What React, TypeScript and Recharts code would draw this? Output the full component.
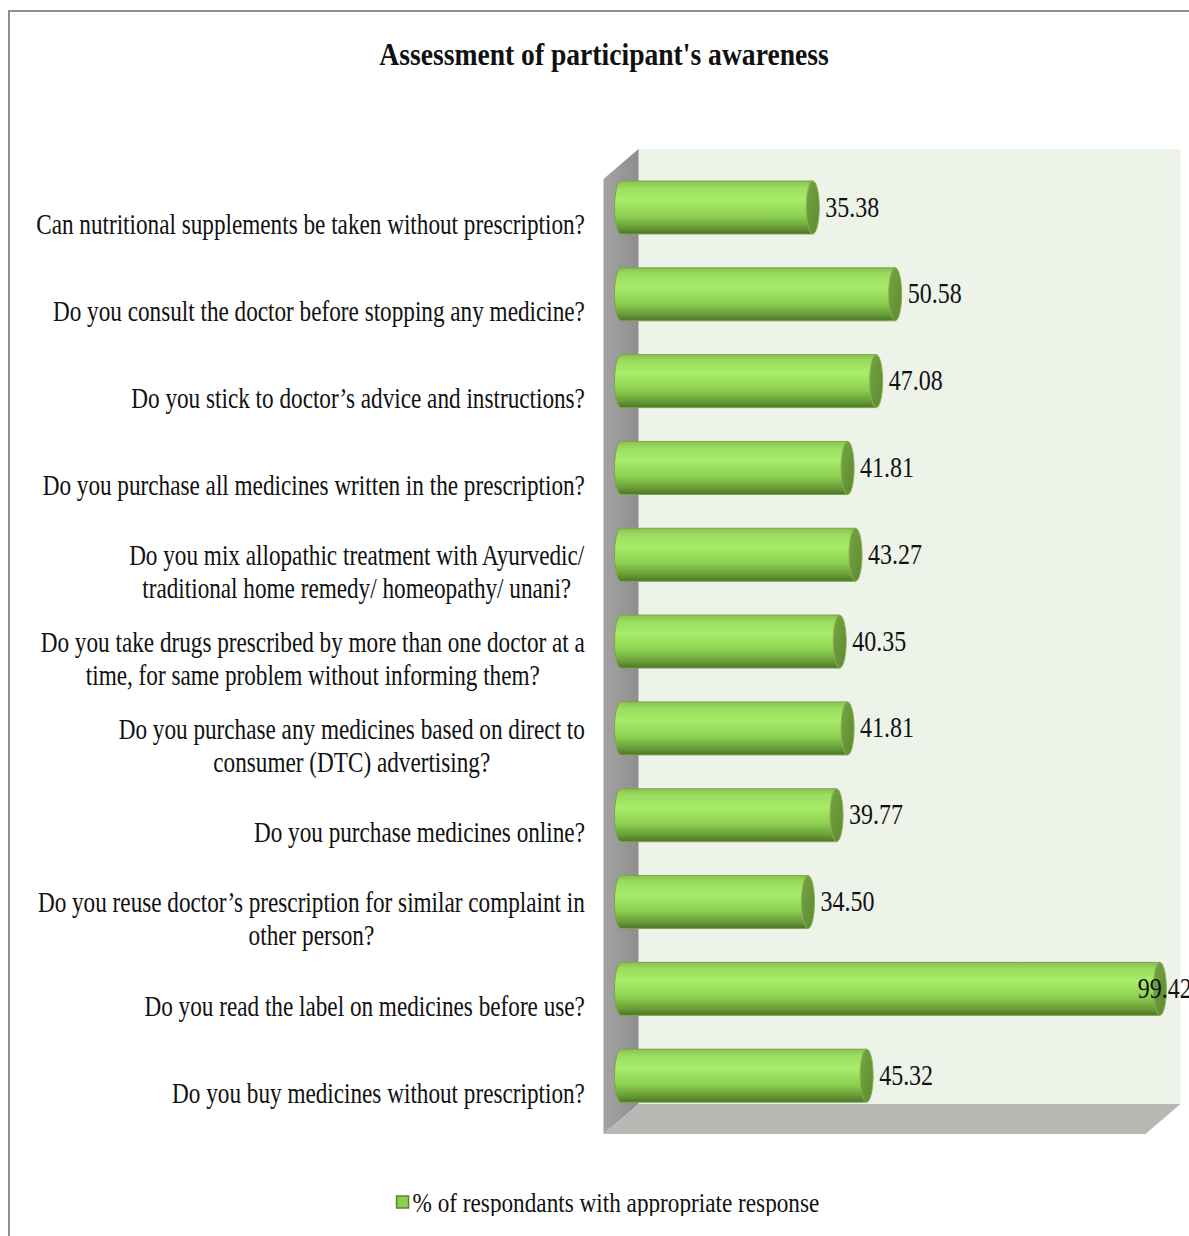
import React from 'react';
import { BarChart, Bar, XAxis, YAxis, ReferenceArea, LabelList, Legend } from 'recharts';

// survey questions, top to bottom ("\n" = line break in the axis label)
const questions = [
  'Can nutritional supplements be taken without prescription?',
  'Do you consult the doctor before stopping any medicine?',
  'Do you stick to doctor\u2019s advice and instructions?',
  'Do you purchase all medicines written in the prescription?',
  'Do you mix allopathic treatment with Ayurvedic/\ntraditional home remedy/ homeopathy/ unani?',
  'Do you take drugs prescribed by more than one doctor at a\ntime, for same problem without informing them?',
  'Do you purchase any medicines based on direct to\nconsumer (DTC) advertising?',
  'Do you purchase medicines online?',
  'Do you reuse doctor\u2019s prescription for similar complaint in\nother person?',
  'Do you read the label on medicines before use?',
  'Do you buy medicines without prescription?',
];

const appropriatePct = [35.38, 50.58, 47.08, 41.81, 43.27, 40.35, 41.81, 39.77, 34.5, 99.42, 45.32];

const seriesName = '% of respondants with appropriate response';
const chartTitle = "Assessment of participant's awareness";

const chartData = questions.map((q, i) => ({ question: q, pct: appropriatePct[i] }));

const W = 1189;
const H = 1236;
const SERIF = '"Liberation Serif", "Times New Roman", serif';
const SX = 0.8; // text in the original is squeezed horizontally
const LABEL_PX = 29;

let ctx: CanvasRenderingContext2D | null = null;
const textWidth = (s: string, font: string) => {
  if (!ctx) ctx = document.createElement('canvas').getContext('2d');
  if (!ctx) return s.length * 12;
  ctx.font = font;
  return ctx.measureText(s).width;
};

const QuestionTick = (props: any) => {
  const { x, y, payload } = props;
  const lines = String(payload.value).split('\n');
  const font = `${LABEL_PX}px ${SERIF}`;
  const block = Math.max(...lines.map((l) => textWidth(l, font) * SX));
  const right = x - 36;
  const cx = right - block / 2;
  return (
    <g>
      {lines.map((l, i) => (
        <text
          key={i}
          transform={`translate(${cx},${y + 27 + (i - (lines.length - 1) / 2) * 33}) scale(${SX},1)`}
          textAnchor="middle"
          fontFamily={SERIF}
          fontSize={LABEL_PX}
          fill="#111"
        >
          {l}
        </text>
      ))}
    </g>
  );
};

const CAP_RX = 6.5;

const Cylinder = (props: any) => {
  const { x, y, width, height } = props;
  const ry = height / 2;
  const x1 = x + width;
  const d = `M${x},${y} L${x1},${y} L${x1},${y + height} L${x},${y + height} A${CAP_RX},${ry} 0 0 1 ${x},${y} Z`;
  return (
    <g>
      <path d={d} fill="url(#cylBody)" stroke="#7fa449" strokeWidth={1} />
      <ellipse cx={x1} cy={y + ry} rx={CAP_RX} ry={ry} fill="url(#cylCap)" stroke="#8bb150" strokeWidth={1} />
    </g>
  );
};

const ValueLabel = (props: any) => {
  const { x, y, width, height, value } = props;
  const txt = Number(value).toFixed(2);
  const w = textWidth(txt, `30px ${SERIF}`) * SX;
  let lx = x + width + CAP_RX + 6;
  if (lx + w > W) lx = x + width - 22;
  return (
    <text
      transform={`translate(${lx},${y + height / 2 + 9}) scale(${SX},1)`}
      fontFamily={SERIF}
      fontSize={30}
      fill="#111"
    >
      {txt}
    </text>
  );
};

// 3-D walls around the plot area
const Walls = (props: any) => {
  const { x, y, width, height } = props;
  const dx = 17.5;
  const dy = 15;
  const b = y + height;
  const r = x + width;
  return (
    <g>
      <defs>
        <linearGradient id="cylBody" x1="0" y1="0" x2="0" y2="1">
          <stop offset="0" stopColor="#86c24f" />
          <stop offset="0.12" stopColor="#9bdc5f" />
          <stop offset="0.35" stopColor="#a8ec68" />
          <stop offset="0.65" stopColor="#8fd253" />
          <stop offset="0.88" stopColor="#679c37" />
          <stop offset="1" stopColor="#4b7428" />
        </linearGradient>
        <linearGradient id="cylCap" x1="0" y1="0" x2="1" y2="1">
          <stop offset="0" stopColor="#75a544" />
          <stop offset="1" stopColor="#5c8a30" />
        </linearGradient>
        <linearGradient id="sideWall" x1="0" y1="0" x2="1" y2="0">
          <stop offset="0" stopColor="#a3a3a3" />
          <stop offset="1" stopColor="#8e8e8e" />
        </linearGradient>
      </defs>
      <rect x={x + dx} y={y - dy} width={width} height={height} fill="#eef3ea" />
      <polygon
        points={`${x - dx},${y + dy} ${x + dx},${y - dy} ${x + dx},${b - dy} ${x - dx},${b + dy}`}
        fill="url(#sideWall)"
      />
      <polygon
        points={`${x - dx},${b + dy} ${x + dx},${b - dy} ${r + dx},${b - dy} ${r - dx},${b + dy}`}
        fill="#b6b8b3"
      />
    </g>
  );
};

const LEG_SX = 0.86;

const LegendBox = () => {
  const font = `27px ${SERIF}`;
  const tw = textWidth(seriesName, font) * LEG_SX;
  const total = 16 + tw;
  const left = 608 - total / 2;
  return (
    <svg width={W} height={30} style={{ display: 'block' }}>
      <rect x={left} y={10} width={12} height={12} fill="#8ccf4e" stroke="#5d8232" strokeWidth={1.5} />
      <text transform={`translate(${left + 16},${26}) scale(${LEG_SX},1)`} fontFamily={SERIF} fontSize={27} fill="#111">
        {seriesName}
      </text>
    </svg>
  );
};

export default function App() {
  return (
    <div style={{ position: 'absolute', left: 0, top: 0, width: W, height: H, overflow: 'hidden', background: '#fff' }}>
      <div
        style={{
          position: 'absolute',
          left: 8,
          top: 10,
          width: 1300,
          height: 1300,
          border: '2px solid #8d8d8d',
        }}
      />
      <svg width={W} height={90} style={{ position: 'absolute', left: 0, top: 0 }}>
        <text
          transform={`translate(604,65) scale(0.92,1.05)`}
          textAnchor="middle"
          fontFamily={SERIF}
          fontWeight="bold"
          fontSize={30}
          fill="#111"
        >
          {chartTitle}
        </text>
      </svg>
      <div style={{ position: 'absolute', left: 0, top: 0 }}>
        <BarChart
          width={W}
          height={H}
          data={chartData}
          layout="vertical"
          margin={{ top: 164, right: 26, bottom: 87, left: 0 }}
        >
          <XAxis type="number" domain={[0, 100]} hide />
          <YAxis
            type="category"
            dataKey="question"
            width={621}
            axisLine={false}
            tickLine={false}
            tickSize={0}
            tickMargin={0}
            interval={0}
            tick={<QuestionTick />}
          />
          <ReferenceArea x1={0} x2={100} ifOverflow="visible" shape={<Walls />} />
          <Bar dataKey="pct" name={seriesName} barSize={53} shape={<Cylinder />} isAnimationActive={false}>
            <LabelList dataKey="pct" content={<ValueLabel />} />
          </Bar>
          <Legend
            verticalAlign="bottom"
            content={<LegendBox />}
            wrapperStyle={{ top: 1186, bottom: 'auto', left: 0, width: W, height: 30 }}
          />
        </BarChart>
      </div>
    </div>
  );
}
